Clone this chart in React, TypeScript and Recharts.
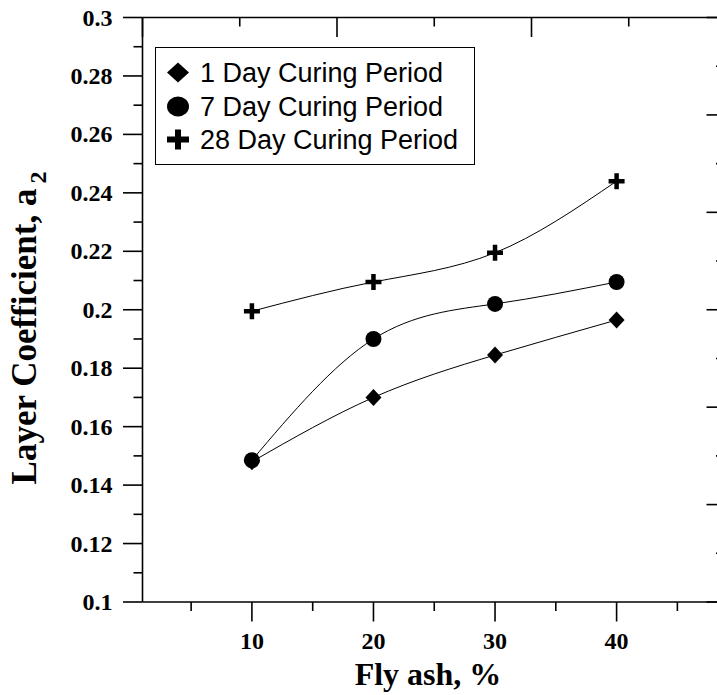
import React from 'react';
import { LineChart, Line, XAxis, YAxis, Legend, Label } from 'recharts';

const flyAsh = [10, 20, 30, 40];
const day1 = [0.148, 0.17, 0.1845, 0.1965];
const day7 = [0.1485, 0.19, 0.202, 0.2095];
const day28 = [0.1995, 0.2095, 0.2195, 0.244];

const xTicks = [5, 10, 15, 20, 25, 30, 35, 40, 45];
const yTicks = [0.1, 0.11, 0.12, 0.13, 0.14, 0.15, 0.16, 0.17, 0.18, 0.19, 0.2, 0.21, 0.22, 0.23, 0.24, 0.25, 0.26, 0.27, 0.28, 0.29, 0.3];
const frameTicks = [0, 0.5, 1, 1.5, 2, 2.5, 3, 3.5, 4, 4.5, 5, 5.5, 6];

const seriesNames = ['1 Day Curing Period', '7 Day Curing Period', '28 Day Curing Period'];

const data = flyAsh.map((x, i) => ({ x, d1: day1[i], d7: day7[i], d28: day28[i] }));

const SERIF = '"Liberation Serif", "Times New Roman", serif';
const SANS = '"Liberation Sans", Arial, sans-serif';

const MAJ = 19.5;
const MIN = 10;

const Diamond = ({ cx, cy, w = 16, h = 17 }: any) => (
  <path d={`M${cx},${cy - h / 2} L${cx + w / 2},${cy} L${cx},${cy + h / 2} L${cx - w / 2},${cy} Z`} fill="#000" />
);
const Circle = ({ cx, cy, w = 16, h = 16 }: any) => (
  <ellipse cx={cx} cy={cy} rx={w / 2} ry={h / 2} fill="#000" />
);
const Cross = ({ cx, cy, w = 16, h = 16, t = 4.5 }: any) => (
  <path
    d={`M${cx - t / 2},${cy - h / 2} h${t} v${h / 2 - t / 2} h${w / 2 - t / 2} v${t} h${-(w / 2 - t / 2)} v${h / 2 - t / 2} h${-t} v${-(h / 2 - t / 2)} h${-(w / 2 - t / 2)} v${-t} h${w / 2 - t / 2} Z`}
    fill="#000"
  />
);

const BottomTick = (props: any) => {
  const { x, y, payload } = props;
  const v = payload.value;
  const major = v % 10 === 0;
  return (
    <g>
      <line x1={x} x2={x} y1={y} y2={y + (major ? MAJ : MIN - 1)} stroke="#000" strokeWidth={1.6} />
      {major && (
        <text x={x} y={y + 47} textAnchor="middle" fontFamily={SERIF} fontWeight="bold" fontSize={24} fill="#000">
          {v}
        </text>
      )}
    </g>
  );
};

const LeftTick = (props: any) => {
  const { x, y, payload } = props;
  const v = payload.value;
  const major = Math.round(v * 100) % 2 === 0;
  return (
    <g>
      <line x1={x} x2={x - (major ? MAJ : MIN - 1)} y1={y} y2={y} stroke="#000" strokeWidth={1.6} />
      {major && (
        <text x={x - 30} y={y + 8} textAnchor="end" fontFamily={SERIF} fontWeight="bold" fontSize={24} fill="#000">
          {String(Number(v.toFixed(2)))}
        </text>
      )}
    </g>
  );
};

const TopTick = (props: any) => {
  const { x, y, payload } = props;
  const major = Number.isInteger(payload.value);
  return <line x1={x} x2={x} y1={y} y2={y + (major ? MAJ : MIN - 1)} stroke="#000" strokeWidth={1.6} />;
};

const RightTick = (props: any) => {
  const { x, y, payload } = props;
  const major = Number.isInteger(payload.value);
  return <line x1={x} x2={x - (major ? MAJ : MIN)} y1={y} y2={y} stroke="#000" strokeWidth={1.6} />;
};

const LegendBox = () => {
  const rows = [25.5, 59.5, 92.5];
  const markers = [Diamond, Circle, Cross];
  return (
    <div style={{ width: 320, height: 118, border: '1.5px solid #000', boxSizing: 'border-box', background: '#fff' }}>
      <svg width={317} height={115} style={{ display: 'block' }}>
        {seriesNames.map((name, i) => {
          const M = markers[i];
          return (
            <g key={name}>
              <M cx={22} cy={rows[i] - 1} w={22} h={20} t={6} />
              <text x={44} y={rows[i] + 8} fontFamily={SANS} fontSize={27} fill="#000">
                {name}
              </text>
            </g>
          );
        })}
      </svg>
    </div>
  );
};

export default function App() {
  return (
    <div style={{ position: 'fixed', left: 0, top: 0, width: 717, height: 695, overflow: 'hidden', background: '#fff' }}>
      <LineChart width={750} height={695} data={data} margin={{ top: 0, right: 0, bottom: 0, left: 0 }}>
        <XAxis
          xAxisId="b"
          dataKey="x"
          type="number"
          domain={[1, 49]}
          ticks={xTicks}
          interval={0}
          height={93}
          tickSize={0}
          tickMargin={0}
          tickLine={false}
          tick={<BottomTick />}
          axisLine={{ stroke: '#000', strokeWidth: 1.6 }}
          allowDataOverflow
        >
          <Label
            content={() => (
              <text x={428} y={685} textAnchor="middle" fontFamily={SERIF} fontWeight="bold" fontSize={32} fill="#000">
                Fly ash, %
              </text>
            )}
          />
        </XAxis>
        <XAxis
          xAxisId="t"
          orientation="top"
          type="number"
          domain={[0, 6]}
          ticks={frameTicks}
          interval={0}
          height={17.5}
          tickSize={0}
          tickMargin={0}
          tickLine={false}
          tick={<TopTick />}
          axisLine={{ stroke: '#000', strokeWidth: 1.6 }}
          allowDataOverflow
        />
        <YAxis
          yAxisId="l"
          type="number"
          domain={[0.1, 0.3]}
          ticks={yTicks}
          interval={0}
          width={142.5}
          tickSize={0}
          tickMargin={0}
          tickLine={false}
          tick={<LeftTick />}
          axisLine={{ stroke: '#000', strokeWidth: 1.6 }}
          allowDataOverflow
        >
          <Label
            content={() => (
              <text
                transform="translate(36,328) rotate(-90)"
                textAnchor="middle"
                fontFamily={SERIF}
                fontWeight="bold"
                fontSize={35}
                fill="#000"
              >
                Layer Coefficient, a
                <tspan fontSize={24} dy={10} dx={5}>2</tspan>
              </text>
            )}
          />
        </YAxis>
        <YAxis
          yAxisId="r"
          orientation="right"
          type="number"
          domain={[0, 6]}
          ticks={frameTicks}
          interval={0}
          width={24}
          tickSize={0}
          tickMargin={0}
          tickLine={false}
          tick={<RightTick />}
          axisLine={{ stroke: '#000', strokeWidth: 1.6 }}
          allowDataOverflow
        />
        <Legend
          layout="vertical"
          verticalAlign="middle"
          align="center"
          content={() => <LegendBox />}
          wrapperStyle={{ position: 'absolute', left: 155, top: 47, width: 320, height: 118 }}
        />
        <Line
          xAxisId="b"
          yAxisId="l"
          type="natural"
          dataKey="d1"
          name={seriesNames[0]}
          stroke="#000"
          strokeWidth={1}
          dot={(p: any) => <Diamond key={`d1-${p.index}`} cx={p.cx} cy={p.cy} />}
          isAnimationActive={false}
        />
        <Line
          xAxisId="b"
          yAxisId="l"
          type="natural"
          dataKey="d7"
          name={seriesNames[1]}
          stroke="#000"
          strokeWidth={1}
          dot={(p: any) => <Circle key={`d7-${p.index}`} cx={p.cx} cy={p.cy} />}
          isAnimationActive={false}
        />
        <Line
          xAxisId="b"
          yAxisId="l"
          type="natural"
          dataKey="d28"
          name={seriesNames[2]}
          stroke="#000"
          strokeWidth={1}
          dot={(p: any) => <Cross key={`d28-${p.index}`} cx={p.cx} cy={p.cy} />}
          isAnimationActive={false}
        />
      </LineChart>
    </div>
  );
}
